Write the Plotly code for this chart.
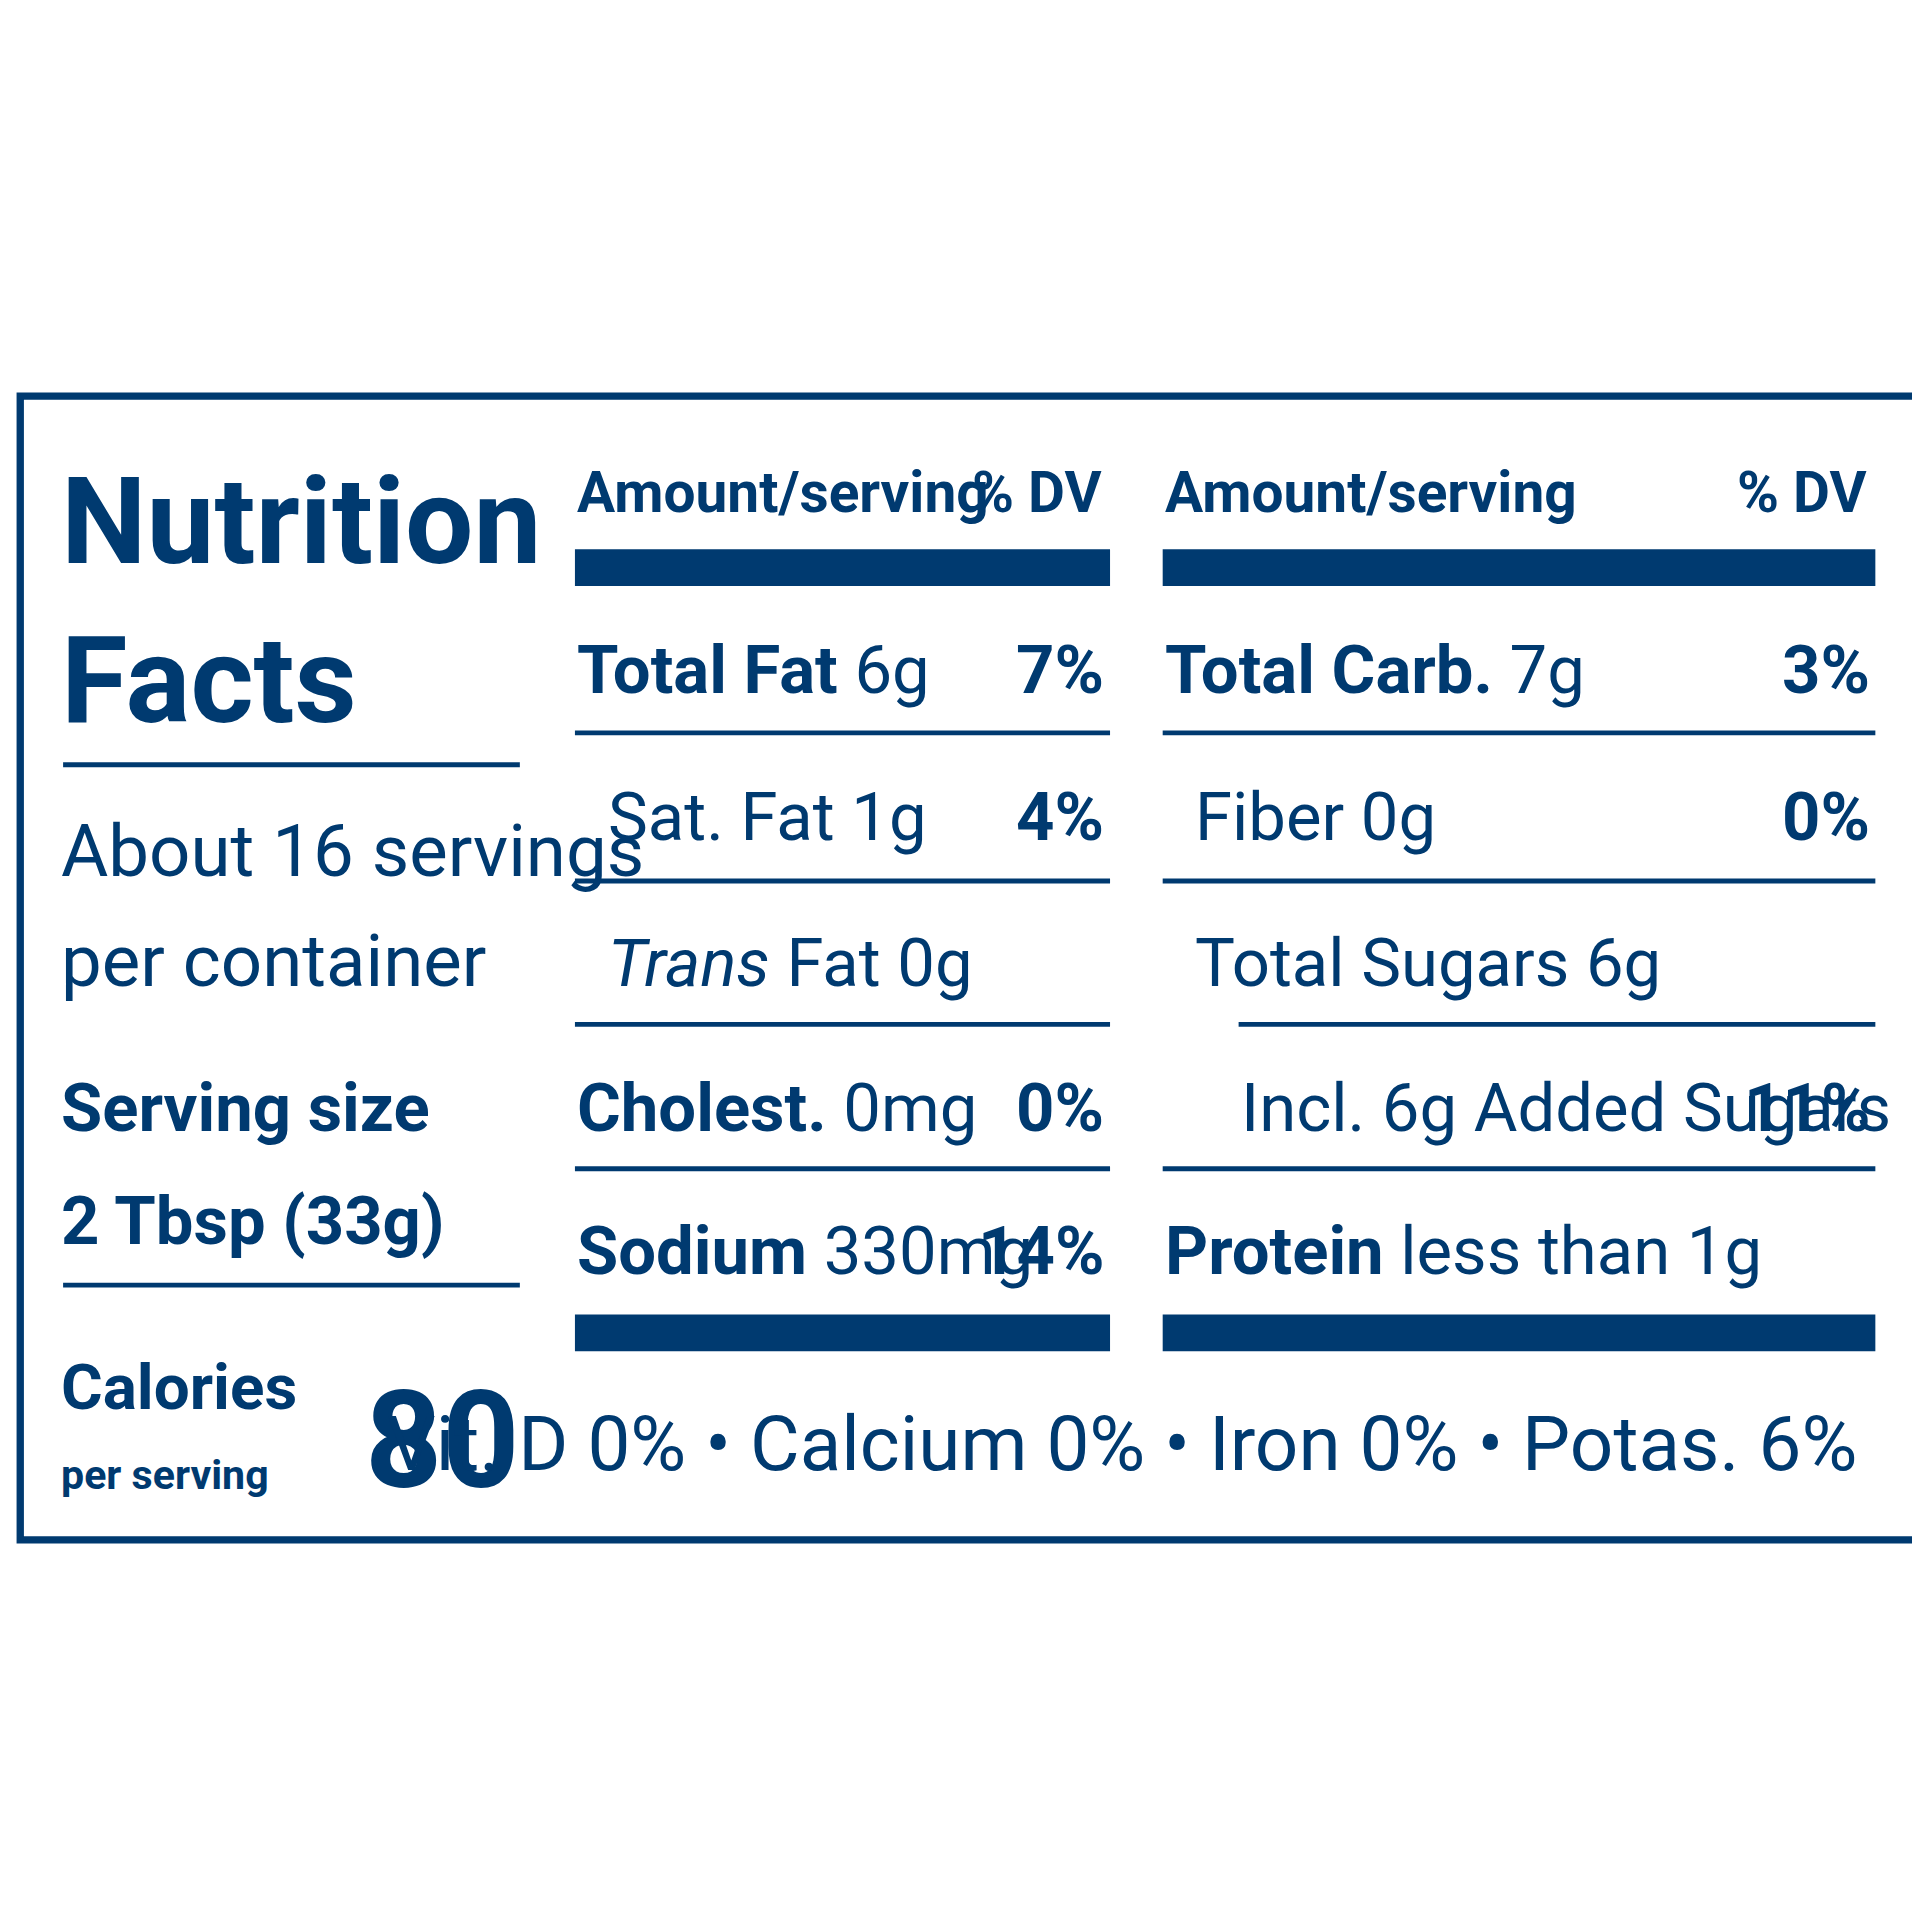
import plotly.graph_objects as go

# label contents
left_names = ["Total Fat", "Sat. Fat", "<i>Trans</i> Fat", "Cholest.", "Sodium"]
left_amounts = ["6g", "1g", "0g", "0mg", "330mg"]
left_dv = ["7%", "4%", "", "0%", "14%"]
left_bold = [True, False, False, True, True]
left_indent = [0, 1, 1, 0, 0]

right_names = ["Total Carb.", "Fiber", "Total Sugars", "Incl. 6g Added Sugars", "Protein"]
right_amounts = ["7g", "0g", "6g", "", "less than 1g"]
right_dv = ["3%", "0%", "", "11%", ""]
right_bold = [True, False, False, False, True]
right_indent = [0, 1, 1, 2, 0]

vitamins = ["Vit. D 0%", "Calcium 0%", "Iron 0%", "Potas. 6%"]
serving_size = "2 Tbsp (33g)"
calories = "80"

BLUE = "#003a70"
FONT = "Roboto, Liberation Sans, sans-serif"
S = 1920 / 1568  # design units -> pixels
K = 0.72         # shrink: the reference face is much narrower

fig = go.Figure()
shapes = []
ann = []

def text(x, y, s, size, anchor="left", bold=False, k=K):
    if bold:
        s = "<b>" + s + "</b>"
    ann.append(dict(x=x, y=y - 0.36 * size * k, text=s, xanchor=anchor, yanchor="middle",
                    showarrow=False, font=dict(family=FONT, size=size * k * S, color=BLUE)))

def hline(x0, x1, y, w):
    shapes.append(dict(type="line", x0=x0, x1=x1, y0=y, y1=y, line=dict(color=BLUE, width=w * S)))

def bar(x0, x1, y0, y1):
    shapes.append(dict(type="rect", x0=x0, x1=x1, y0=y0, y1=y1, fillcolor=BLUE, line=dict(width=0)))

# border
shapes.append(dict(type="rect", x0=10, x1=1562, y0=317, y1=1251, line=dict(color=BLUE, width=6 * S)))

# left panel
text(42, 455, "Nutrition", 150, bold=True, k=0.66)
text(42, 585, "Facts", 150, bold=True, k=0.66)
hline(45, 418, 618, 4)
text(42, 710, "About 16 servings", 76, k=0.78)
text(42, 800, "per container", 76, k=0.78)
text(42, 918, "Serving size", 76, bold=True)
text(42, 1010, serving_size, 76, bold=True)
hline(45, 418, 1043, 4)
text(42, 1145, "Calories", 84, bold=True, k=0.62)
text(42, 1210, "per serving", 48, bold=True, k=0.7)
text(420, 1210, calories, 200, anchor="right", bold=True, k=0.55)

row_base = [560, 680, 800, 918, 1035]
row_lines = [592, 713, 830, 948]

def column(x0, x1, names, amounts, dv, bold, indent, line_indent):
    text(x0, 412, "Amount/serving", 58, bold=True, k=0.8)
    text(x1 - 5, 412, "% DV", 58, anchor="right", bold=True, k=0.8)
    bar(x0, x1, 442, 472)
    for i in range(len(names)):
        nm = ("<b>" + names[i] + "</b>") if bold[i] else names[i]
        s = nm + (" " + amounts[i] if amounts[i] else "")
        text(x0 + [0, 25, 62][indent[i]], row_base[i], s, 76)
        if dv[i]:
            text(x1 - 3, row_base[i], dv[i], 76, anchor="right", bold=True)
    for i, y in enumerate(row_lines):
        hline(x0 + line_indent[i], x1, y, 4)
    bar(x0, x1, 1067, 1097)

column(463, 900, left_names, left_amounts, left_dv, left_bold, left_indent, [0, 0, 0, 0])
column(943, 1525, right_names, right_amounts, right_dv, right_bold, right_indent, [0, 0, 62, 0])

text(1512, 1195, " • ".join(vitamins), 80, anchor="right", k=0.78)

fig.update_layout(width=1920, height=1920, margin=dict(l=0, r=0, t=0, b=0),
                  paper_bgcolor="white", plot_bgcolor="white",
                  shapes=shapes, annotations=ann, showlegend=False)
fig.update_xaxes(range=[0, 1568], visible=False)
fig.update_yaxes(range=[1568, 0], visible=False)
fig.write_html("out.html")
